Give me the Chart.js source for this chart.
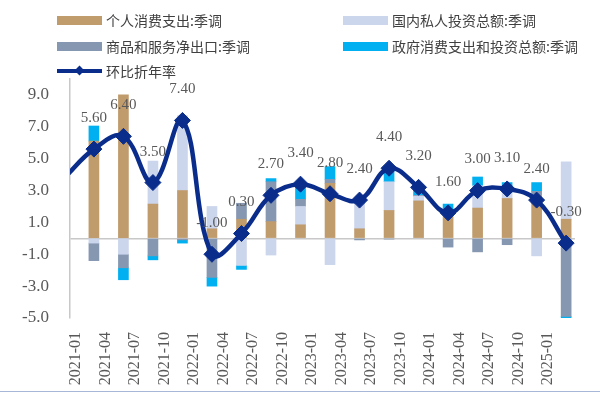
<!DOCTYPE html>
<html>
<head>
<meta charset="utf-8">
<script src="https://cdn.jsdelivr.net/npm/chart.js@4.4.1/dist/chart.umd.min.js"></script>
<style>
html, body { margin: 0; padding: 0; background: #fff; }
#wrap { position: relative; width: 600px; height: 393px; overflow: hidden; }
#chart { position: absolute; left: 0; top: 0; }
.lg { position: absolute; display: flex; align-items: center; height: 20px; font-family: "Noto Sans CJK SC", sans-serif; font-size: 14px; color: #404040; white-space: nowrap; }
.sw { width: 45px; height: 9px; margin-right: 4px; }
.ln { position: relative; width: 45px; height: 4px; margin-right: 4px; }
.ln i { position: absolute; left: 19px; top: -2px; width: 7px; height: 7px; transform: rotate(45deg); }
#edge { position: absolute; left: 0; right: 0; bottom: 1px; height: 1px; background: #a7b8d6; }
</style>
</head>
<body>
<div id="wrap">
  <canvas id="chart" width="600" height="393"></canvas>
  <div id="legend"></div>
  <div id="edge"></div>
</div>
<script>
// 季度（第一个点 2020-10 只用于折线左端的延伸，不显示）
const quarters = ['2020-10', '2021-01', '2021-04', '2021-07', '2021-10', '2022-01', '2022-04', '2022-07', '2022-10',
    '2023-01', '2023-04', '2023-07', '2023-10', '2024-01', '2024-04', '2024-07', '2024-10', '2025-01'];

// 对 GDP 环比折年率的拉动（百分点）
const consumption = [null, 6.1, 9.0, 2.15, 3.0, 0.6, 1.2, 1.05, 0.85, 3.45, 0.6, 1.75, 2.35, 1.35, 1.9, 2.5, 2.7, 1.2];
const investment  = [null, -0.3, -1.0, 2.7, 4.7, 1.4, -1.7, -1.05, 1.15, -1.65, 1.6, 1.8, 0.3, 0.4, 1.4, 0.4, -1.1, 3.6];
const netExports  = [null, -1.1, -0.85, -1.1, -0.1, -2.45, 1.0, 2.5, 0.45, 0.25, -0.1, -0.05, 0.05, -0.55, -0.85, -0.4, 0.25, -4.9];
const government  = [null, 0.95, -0.75, -0.25, -0.2, -0.55, -0.25, 0.2, 0.95, 0.8, 0.3, 0.9, 0.5, 0.4, 0.55, 0.6, 0.55, -0.2];
const gdpRate     = [3.8, 5.6, 6.4, 3.5, 7.4, -1.0, 0.3, 2.7, 3.4, 2.8, 2.4, 4.4, 3.2, 1.6, 3.0, 3.1, 2.4, -0.3];

const yTicks = [-5, -3, -1, 1, 3, 5, 7, 9];

const seriesNames = ['个人消费支出:季调', '国内私人投资总额:季调', '商品和服务净出口:季调', '政府消费支出和投资总额:季调'];
const lineName = '环比折年率';

const colors = ['#c09b6c', '#cbd5ec', '#8597b1', '#00b0f0'];
const lineColor = '#0a2d8c';

function toPoints(arr) {
    return arr.map((v, i) => ({ x: i, y: v })).filter(p => p.y !== null);
}

const barSets = [consumption, investment, netExports, government].map((arr, k) => ({
    type: 'bar',
    label: seriesNames[k],
    data: toPoints(arr),
    backgroundColor: colors[k],
    barThickness: 10,
    order: 1
}));

const lineSet = {
    type: 'line',
    label: lineName,
    data: toPoints(gdpRate),
    borderColor: lineColor,
    backgroundColor: lineColor,
    borderWidth: 4.5,
    tension: 0.4,
    pointStyle: 'rectRot',
    pointRadius: c => c.dataIndex === 0 ? 0 : 8,
    pointBorderWidth: 1,
    pointBorderColor: lineColor,
    stack: 'line',
    order: 0
};

// 折线数值标签
const pointLabels = {
    id: 'pointLabels',
    afterDatasetsDraw(chart) {
        const meta = chart.getDatasetMeta(0);
        const ctx = chart.ctx;
        ctx.save();
        ctx.font = '15px "Liberation Serif"';
        ctx.fillStyle = '#595959';
        ctx.textAlign = 'center';
        ctx.textBaseline = 'middle';
        meta.data.forEach((pt, i) => {
            if (pt.x < chart.chartArea.left) return;
            ctx.fillText(gdpRate[i].toFixed(2), pt.x, pt.y - 31);
        });
        ctx.restore();
    }
};

new Chart(document.getElementById('chart'), {
    data: { datasets: [lineSet, ...barSets] },
    options: {
        responsive: false,
        animation: false,
        devicePixelRatio: 1,
        events: [],
        layout: { padding: { top: 79, right: 25, left: 0, bottom: 0 } },
        plugins: { legend: { display: false }, tooltip: { enabled: false } },
        scales: {
            x: {
                type: 'linear',
                stacked: true,
                offset: false,
                min: 0.19,
                max: 17.3,
                grid: { display: false, drawTicks: false, offset: false },
                border: { display: false },
                afterBuildTicks: s => { s.ticks = quarters.slice(1).map((q, i) => ({ value: i + 1 })); },
                afterFit: s => { s.height = 75; },
                ticks: {
                    autoSkip: false,
                    minRotation: 90,
                    maxRotation: 90,
                    padding: 14,
                    labelOffset: -18,
                    color: '#595959',
                    font: { family: 'Liberation Serif', size: 16 },
                    callback: v => quarters[v]
                }
            },
            y: {
                stacked: true,
                min: -5,
                max: 10,
                grid: {
                    drawTicks: false,
                    color: c => (c.tick && c.tick.value === 0) ? '#c8c8c8' : 'transparent',
                    lineWidth: 1.5
                },
                border: { display: true, color: '#c8c8c8', width: 1.5 },
                afterBuildTicks: s => { s.ticks = [...yTicks, 0].sort((a, b) => a - b).map(v => ({ value: v })); },
                afterFit: s => { s.width = 70; },
                ticks: {
                    padding: 21,
                    color: '#595959',
                    font: { family: 'Liberation Serif', size: 17 },
                    callback: v => v === 0 ? '' : v.toFixed(1)
                }
            }
        }
    },
    plugins: [pointLabels]
});

// 图例
const legendPos = [[57, 10], [343, 10], [57, 36], [343, 36], [57, 61]];
const legend = document.getElementById('legend');
seriesNames.concat([lineName]).forEach((name, k) => {
    const item = document.createElement('div');
    item.className = 'lg';
    item.style.left = legendPos[k][0] + 'px';
    item.style.top = legendPos[k][1] + 'px';
    if (k < 4) {
        item.innerHTML = `<span class="sw" style="background:${colors[k]}"></span>${name}`;
    } else {
        item.innerHTML = `<span class="ln" style="background:${lineColor}"><i style="background:${lineColor}"></i></span>${name}`;
    }
    legend.appendChild(item);
});
</script>
</body>
</html>
